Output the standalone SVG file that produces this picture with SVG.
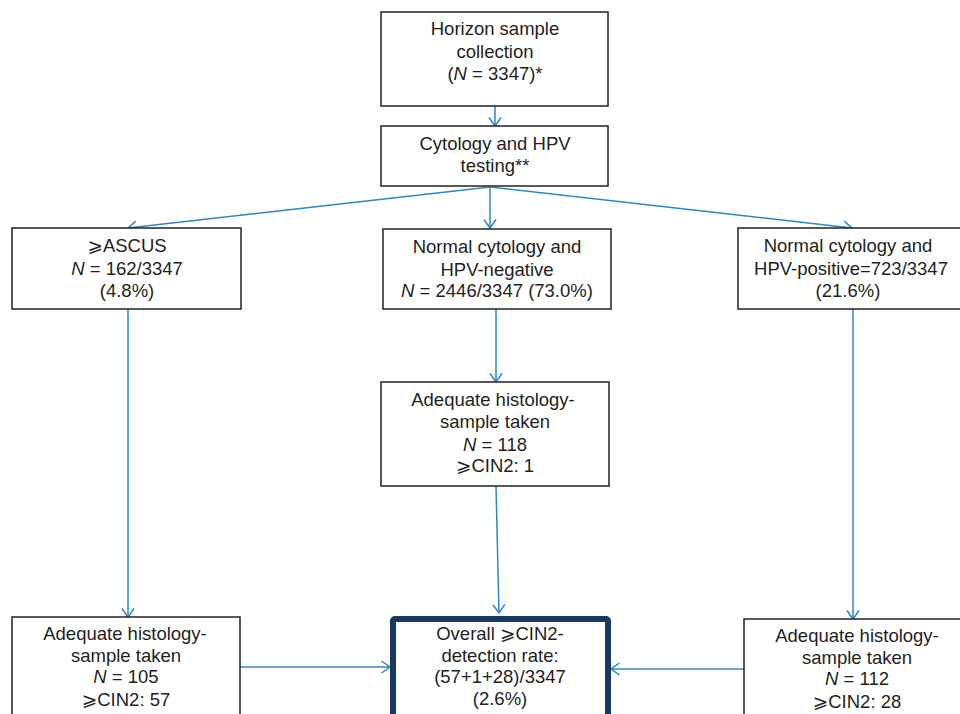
<svg xmlns="http://www.w3.org/2000/svg" width="960" height="714" viewBox="0 0 960 714">
<defs>
<style>
.box{fill:#fff;stroke:#231f20;stroke-width:1.5}
.main{fill:#fff;stroke:#163a60;stroke-width:6}
.t{font-family:"Liberation Sans","DejaVu Sans",sans-serif;font-size:18.5px;fill:#231f20;text-anchor:middle}
.c{stroke:#2a88c8;stroke-width:1.5;fill:none;marker-end:url(#ah)}
</style>
<marker id="ah" viewBox="0 0 10 14" refX="9.5" refY="7" markerWidth="10" markerHeight="14" markerUnits="userSpaceOnUse" orient="auto">
<path d="M1,1 L9.5,7 L1,13" fill="none" stroke="#2a88c8" stroke-width="1.5"/>
</marker>
</defs>
<rect width="960" height="714" fill="#fff"/>
<g id="connectors">
<line class="c" x1="495" y1="106" x2="495" y2="126"/>
<line class="c" x1="490" y1="187" x2="128" y2="228"/>
<line class="c" x1="490" y1="187" x2="490" y2="228"/>
<line class="c" x1="490" y1="187" x2="852" y2="228"/>
<line class="c" x1="128" y1="309" x2="128" y2="617"/>
<line class="c" x1="496" y1="309" x2="496" y2="382"/>
<line class="c" x1="853" y1="309" x2="853" y2="619"/>
<line class="c" x1="496" y1="486" x2="499" y2="613"/>
<line class="c" x1="240" y1="667" x2="390" y2="667"/>
<line class="c" x1="744" y1="669" x2="611" y2="669"/>
</g>
<g id="n1">
<rect class="box" x="381" y="12" width="227" height="94"/>
<text class="t" x="495" y="35">Horizon sample</text>
<text class="t" x="495" y="58">collection</text>
<text class="t" x="495" y="80">(<tspan font-style="italic">N</tspan> = 3347)*</text>
</g>
<g id="n2">
<rect class="box" x="381" y="126" width="227" height="60"/>
<text class="t" x="495" y="150">Cytology and HPV</text>
<text class="t" x="495" y="172">testing**</text>
</g>
<g id="n3">
<rect class="box" x="12" y="228" width="229" height="81"/>
<text class="t" x="127" y="252">⩾ASCUS</text>
<text class="t" x="127" y="275"><tspan font-style="italic">N</tspan> = 162/3347</text>
<text class="t" x="127" y="297">(4.8%)</text>
</g>
<g id="n4">
<rect class="box" x="383" y="229" width="228" height="80"/>
<text class="t" x="497" y="253">Normal cytology and</text>
<text class="t" x="497" y="276">HPV-negative</text>
<text class="t" x="497" y="297"><tspan font-style="italic">N</tspan> = 2446/3347 (73.0%)</text>
</g>
<g id="n5">
<rect class="box" x="738" y="228" width="230" height="81"/>
<text class="t" x="848" y="252">Normal cytology and</text>
<text class="t" x="851" y="275">HPV-positive=723/3347</text>
<text class="t" x="848" y="297">(21.6%)</text>
</g>
<g id="n6">
<rect class="box" x="381" y="382" width="228" height="104"/>
<text class="t" x="493" y="406">Adequate histology-</text>
<text class="t" x="495" y="428">sample taken</text>
<text class="t" x="495" y="451"><tspan font-style="italic">N</tspan> = 118</text>
<text class="t" x="495" y="472">⩾CIN2: 1</text>
</g>
<g id="n7">
<rect class="box" x="12" y="617" width="228" height="110"/>
<text class="t" x="125" y="640">Adequate histology-</text>
<text class="t" x="126" y="662">sample taken</text>
<text class="t" x="126" y="683"><tspan font-style="italic">N</tspan> = 105</text>
<text class="t" x="126" y="706">⩾CIN2: 57</text>
</g>
<g id="n8">
<rect class="main" x="393" y="619" width="215" height="110" rx="2"/>
<text class="t" x="500" y="640">Overall ⩾CIN2-</text>
<text class="t" x="500" y="662">detection rate:</text>
<text class="t" x="500" y="683">(57+1+28)/3347</text>
<text class="t" x="500" y="705">(2.6%)</text>
</g>
<g id="n9">
<rect class="box" x="744" y="619" width="230" height="110"/>
<text class="t" x="857" y="642">Adequate histology-</text>
<text class="t" x="857" y="664">sample taken</text>
<text class="t" x="857" y="685"><tspan font-style="italic">N</tspan> = 112</text>
<text class="t" x="857" y="708">⩾CIN2: 28</text>
</g>
</svg>
